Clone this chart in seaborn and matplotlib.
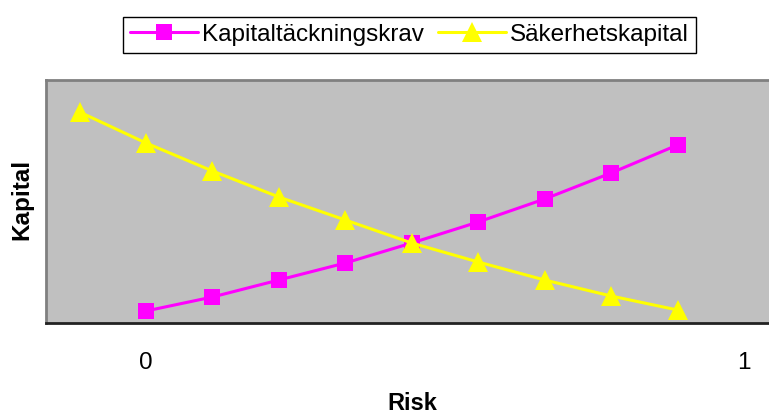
import matplotlib
matplotlib.use("Agg")
import matplotlib.pyplot as plt
import seaborn as sns
import pandas as pd

# Step positions along the risk axis (tick "0" at step 0, tick "1" at step 9)
krav_steps = [0, 1, 2, 3, 4, 5, 6, 7, 8]
krav_values = [12, 26, 43, 60, 80, 101, 124, 150, 178]

saker_steps = [-1, 0, 1, 2, 3, 4, 5, 6, 7, 8]
saker_values = [211, 180, 152, 126, 103, 80, 61, 43, 27, 13]

tick_steps = [0, 9]
tick_labels = ["0", "1"]

series_names = ["Kapitaltäckningskrav", "Säkerhetskapital"]

krav_df = pd.DataFrame({"steg": krav_steps, "kapital": krav_values})
saker_df = pd.DataFrame({"steg": saker_steps, "kapital": saker_values})

sns.set_theme(style="white")
plt.rcParams["font.family"] = ["Liberation Sans", "DejaVu Sans"]
plt.rcParams["text.color"] = "black"
plt.rcParams["xtick.color"] = "black"

W, H = 769, 416
fig = plt.figure(figsize=(W / 100, H / 100), dpi=100)
ax = fig.add_axes([46 / W, 93 / H, (W - 46) / W, (323 - 80) / H])
ax.set_facecolor("#C0C0C0")

sns.lineplot(data=krav_df, x="steg", y="kapital", ax=ax, color="#FF00FF",
             linewidth=2.2, marker="s", markersize=12, markeredgewidth=0,
             label=series_names[0])
sns.lineplot(data=saker_df, x="steg", y="kapital", ax=ax, color="#FFFF00",
             linewidth=2.2, marker="^", markersize=15, markeredgewidth=0,
             label=series_names[1])

ax.set_xlim(-1.505, 9.377)
ax.set_ylim(0, 243)

ax.set_xticks(tick_steps)
ax.set_xticklabels(tick_labels, fontsize=17.5, color="black")
ax.set_yticks([])
ax.tick_params(axis="x", length=0, pad=21)

for side in ["left", "top"]:
    ax.spines[side].set_visible(True)
    ax.spines[side].set_color("#808080")
    ax.spines[side].set_linewidth(2)
ax.spines["right"].set_visible(False)
ax.spines["bottom"].set_visible(True)
ax.spines["bottom"].set_color("#222222")
ax.spines["bottom"].set_linewidth(2)

ax.set_xlabel("")
ax.set_ylabel("")
fig.text(22 / W, 1 - 199 / H, "Kapital", rotation=90, ha="center", va="center",
         fontsize=17.5, fontweight="bold", color="black")
fig.text(412 / W, 1 - 403 / H, "Risk", ha="center", va="center",
         fontsize=17, fontweight="bold", color="black")

ax.legend_.remove()
handles, labels = ax.get_legend_handles_labels()
leg = fig.legend(handles, labels, loc="center", bbox_to_anchor=(409.5 / W, 1 - 35 / H),
                 ncol=2, fontsize=17.5, frameon=True, fancybox=False,
                 edgecolor="black", framealpha=1, handlelength=2.8,
                 handletextpad=0.15, columnspacing=0.6, borderpad=0.3,
                 borderaxespad=0)
leg.get_frame().set_linewidth(1.0)
for t in leg.get_texts():
    t.set_color("black")

fig.savefig("out.png", dpi=100)
